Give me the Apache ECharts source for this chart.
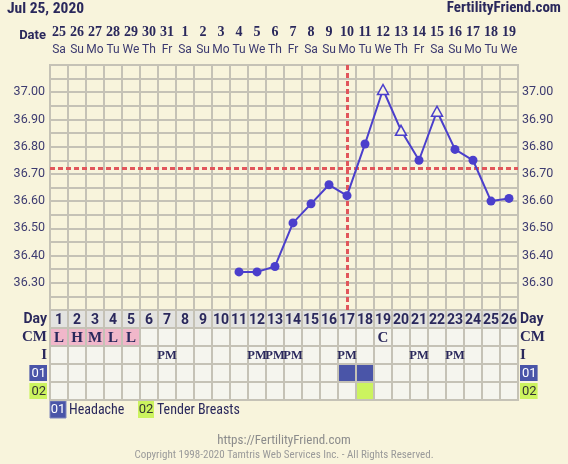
<!DOCTYPE html>
<html>
<head>
<meta charset="utf-8">
<script src="https://cdn.jsdelivr.net/npm/echarts@6.0.0/dist/echarts.min.js"></script>
<style>
html, body { margin: 0; padding: 0; background: #f8f4dc; }
#chart { width: 568px; height: 464px; }
</style>
</head>
<body>
<div id="chart"></div>
<script>
// chart data
var cycleDays = ['1','2','3','4','5','6','7','8','9','10','11','12','13','14','15','16','17','18','19','20','21','22','23','24','25','26'];
var dates = ['25','26','27','28','29','30','31','1','2','3','4','5','6','7','8','9','10','11','12','13','14','15','16','17','18','19'];
var weekdays = ['Sa','Su','Mo','Tu','We','Th','Fr','Sa','Su','Mo','Tu','We','Th','Fr','Sa','Su','Mo','Tu','We','Th','Fr','Sa','Su','Mo','Tu','We'];
var temps = [null, null, null, null, null, null, null, null, null, null,
  36.34, 36.34, 36.36, 36.52, 36.59, 36.66, 36.62, 36.81, 37.01, 36.86, 36.75, 36.93, 36.79, 36.75, 36.60, 36.61];
var openDays = [19, 20, 22];           // hollow triangle markers
var coverline = 36.715;
var ovulationDay = 17;
var periodDays = [1, 2, 3, 4, 5];
var cm = ['L','H','M','L','L','','','','','','','','','','','','','','C','','','','','','',''];
var intercourse = [7, 12, 13, 14, 17, 21, 23];
var headache = [17, 18];
var tenderBreasts = [18];
var rowNames = ['Day', 'CM', 'I', '01', '02'];
var tempTicks = ['36.30','36.40','36.50','36.60','36.70','36.80','36.90','37.00'];

var navy = '#2a285c';
var gridColor = '#c5c2b6';
var blue = '#4a55a8';
var lime = '#ccf35f';
var narrow = '"Roboto Condensed", "Liberation Sans Narrow", Roboto';

var myChart = echarts.init(document.getElementById('chart'));

// temperature points
var tempData = temps.map(function (t, i) {
  if (t === null) return null;
  if (openDays.indexOf(i + 1) >= 0) {
    return {
      value: t,
      symbol: 'triangle',
      symbolSize: [11, 10],
      itemStyle: { color: '#f8f4dc', borderColor: '#4b3fcc', borderWidth: 1.5 }
    };
  }
  return t;
});

// table cells
var cells = [];
var texts = [];
for (var r = 0; r < rowNames.length; r++) {
  for (var d = 0; d < cycleDays.length; d++) {
    var day = d + 1;
    var fill = '#f5f5ee';
    if (r === 0) fill = '#e3e3e0';
    if (r === 1 && periodDays.indexOf(day) >= 0) fill = '#f1b7ca';
    if (r === 3 && headache.indexOf(day) >= 0) fill = blue;
    if (r === 4 && tenderBreasts.indexOf(day) >= 0) fill = lime;
    cells.push({ value: [d, r], fill: fill });

    if (r === 0) texts.push({ value: [d, r], text: cycleDays[d], font: 'bold 14px Roboto' });
    if (r === 1 && cm[d]) texts.push({ value: [d, r], text: cm[d], font: 'bold 15px "Liberation Serif"' });
    if (r === 2 && intercourse.indexOf(day) >= 0) texts.push({ value: [d, r], text: 'PM', font: 'bold 12.5px "Liberation Serif"' });
  }
}

function renderCell(params, api) {
  var c = api.coord([api.value(0), api.value(1)]);
  var s = api.size([1, 1]);
  return {
    type: 'rect',
    shape: { x: c[0] - s[0] / 2, y: c[1] - s[1] / 2, width: s[0], height: s[1] },
    style: { fill: cells[params.dataIndex].fill, stroke: gridColor, lineWidth: 2 }
  };
}

function renderText(params, api) {
  var c = api.coord([api.value(0), api.value(1)]);
  var t = texts[params.dataIndex];
  return {
    type: 'text',
    x: c[0],
    y: c[1] + 1,
    style: { text: t.text, font: t.font, fill: navy, align: 'center', verticalAlign: 'middle' }
  };
}

function tempLabel(value) {
  var v = Math.round(value * 100);
  var s = (v / 100).toFixed(2);
  return (v % 10 === 0 && tempTicks.indexOf(s) >= 0) ? s : '';
}

function rowLabel(value) {
  if (value === 'Day') return '{day|Day}';
  if (value === '01') return '{b1|01}';
  if (value === '02') return '{b2|02}';
  return '{serif|' + value + '}';
}

var rowRich = {
  day: { fontFamily: 'Roboto', fontWeight: 'bold', fontSize: 14, color: navy },
  serif: { fontFamily: 'Liberation Serif', fontWeight: 'bold', fontSize: 15, color: navy },
  b1: { fontFamily: 'Roboto', fontSize: 13, color: '#ffffff', backgroundColor: blue, padding: [2, 1, 1, 2] },
  b2: { fontFamily: 'Roboto', fontSize: 13, color: '#333333', backgroundColor: lime, padding: [2, 1, 1, 2] }
};

var option = {
  backgroundColor: '#f8f4dc',
  animation: false,
  grid: [
    { left: 50, right: 50, top: 65, height: 245, show: true, borderColor: gridColor, borderWidth: 2, outerBoundsMode: 'none' },
    { left: 50, right: 50, top: 310, height: 90, outerBoundsMode: 'none' }
  ],
  xAxis: [
    {
      gridIndex: 0,
      type: 'category',
      position: 'top',
      data: cycleDays,
      axisLine: { show: false },
      axisTick: { show: false },
      splitLine: { show: true, interval: 0, lineStyle: { color: gridColor, width: 2 } },
      axisLabel: {
        interval: 0,
        margin: 6,
        formatter: function (v, i) { return '{n|' + dates[i] + '}\n{w|' + weekdays[i] + '}'; },
        rich: {
          n: { fontFamily: 'Liberation Serif', fontWeight: 'bold', fontSize: 14, color: navy, lineHeight: 18 },
          w: { fontFamily: 'Roboto', fontSize: 12, color: '#3c3a70', lineHeight: 18 }
        }
      }
    },
    {
      gridIndex: 1,
      type: 'category',
      data: cycleDays,
      show: false
    }
  ],
  yAxis: [
    {
      gridIndex: 0, type: 'value', min: 36.2, max: 37.1, interval: 0.05,
      axisLine: { show: false }, axisTick: { show: false },
      splitLine: { show: true, lineStyle: { color: gridColor, width: 2 } },
      axisLabel: { margin: 5, fontFamily: 'Roboto', fontSize: 12.5, color: '#3d3b70', formatter: tempLabel }
    },
    {
      gridIndex: 0, type: 'value', position: 'right', min: 36.2, max: 37.1, interval: 0.05,
      axisLine: { show: false }, axisTick: { show: false }, splitLine: { show: false },
      axisLabel: { margin: 4, fontFamily: 'Roboto', fontSize: 12.5, color: '#3d3b70', formatter: tempLabel }
    },
    {
      gridIndex: 1, type: 'category', data: rowNames, inverse: true,
      axisLine: { show: false }, axisTick: { show: false },
      axisLabel: { margin: 3, formatter: rowLabel, rich: rowRich }
    },
    {
      gridIndex: 1, type: 'category', data: rowNames, inverse: true, position: 'right',
      axisLine: { show: false }, axisTick: { show: false },
      axisLabel: { margin: 2, formatter: rowLabel, rich: rowRich }
    }
  ],
  series: [
    {
      type: 'line',
      xAxisIndex: 0,
      yAxisIndex: 0,
      data: tempData,
      z: 5,
      symbol: 'circle',
      symbolSize: 9,
      lineStyle: { color: '#4b3fcc', width: 2 },
      itemStyle: { color: '#4b3fcc' },
      markLine: {
        silent: true,
        symbol: 'none',
        label: { show: false },
        lineStyle: { color: '#e1565b', type: [5, 3], width: 3 },
        data: [{ yAxis: coverline }, { xAxis: ovulationDay - 1 }]
      }
    },
    {
      type: 'custom',
      xAxisIndex: 1,
      yAxisIndex: 2,
      renderItem: renderCell,
      data: cells.map(function (c) { return c.value; })
    },
    {
      type: 'custom',
      xAxisIndex: 1,
      yAxisIndex: 2,
      z: 3,
      renderItem: renderText,
      data: texts.map(function (t) { return t.value; })
    }
  ],
  graphic: [
    { type: 'text', left: 7, top: 1, style: { text: 'Jul 25, 2020', font: 'bold 15.5px ' + narrow, fill: navy } },
    { type: 'text', right: 7, top: 1, style: { text: 'FertilityFriend.com', font: 'bold 15px ' + narrow, fill: navy } },
    { type: 'text', x: 46, y: 36, style: { text: 'Date', font: 'bold 13px Roboto', fill: navy, align: 'right', verticalAlign: 'middle' } },
    { type: 'rect', shape: { x: 50, y: 401, width: 16, height: 17 }, style: { fill: blue, stroke: '#7f86bd', lineWidth: 1 } },
    { type: 'text', x: 58, y: 410, style: { text: '01', font: '13px Roboto', fill: '#ffffff', align: 'center', verticalAlign: 'middle' } },
    { type: 'text', x: 69, y: 410, style: { text: 'Headache', font: '14px ' + narrow, fill: navy, verticalAlign: 'middle' } },
    { type: 'rect', shape: { x: 138, y: 401, width: 16, height: 17 }, style: { fill: lime } },
    { type: 'text', x: 146, y: 410, style: { text: '02', font: '13px Roboto', fill: '#333333', align: 'center', verticalAlign: 'middle' } },
    { type: 'text', x: 157, y: 410, style: { text: 'Tender Breasts', font: '14px ' + narrow, fill: navy, verticalAlign: 'middle' } },
    { type: 'text', x: 284, y: 441, style: { text: 'https://FertilityFriend.com', font: '13px ' + narrow, fill: '#8c8c8c', align: 'center', verticalAlign: 'middle' } },
    { type: 'text', x: 284, y: 455, style: { text: 'Copyright 1998-2020 Tamtris Web Services Inc. - All Rights Reserved.', font: '11px ' + narrow, fill: '#9a9a9a', align: 'center', verticalAlign: 'middle' } }
  ]
};

myChart.setOption(option);
window.addEventListener('resize', function () {
  myChart.resize();
});
</script>
</body>
</html>
